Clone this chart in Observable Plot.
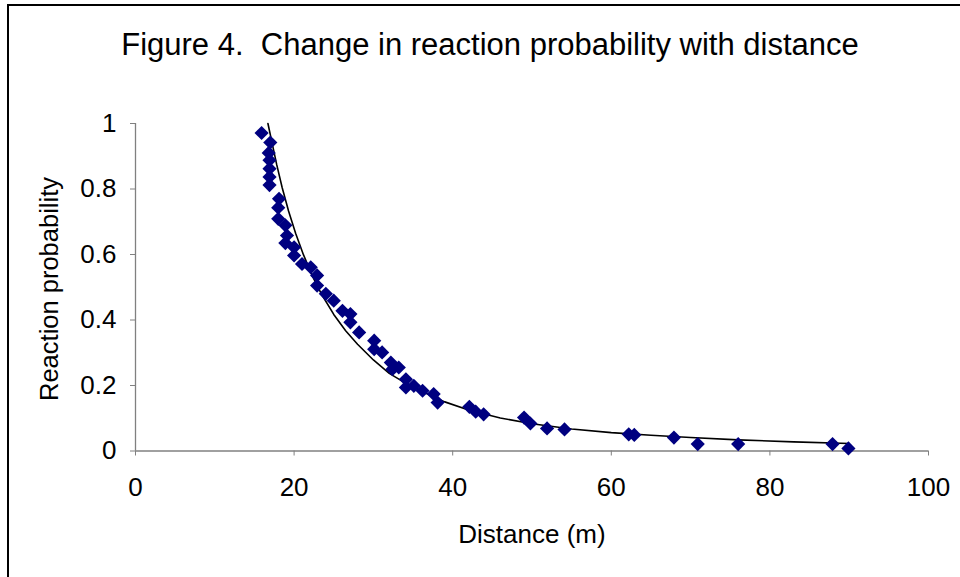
<!DOCTYPE html>
<html>
<head>
<meta charset="utf-8">
<script src="https://cdn.jsdelivr.net/npm/d3@7"></script>
<script src="https://cdn.jsdelivr.net/npm/@observablehq/plot@0.6"></script>
<style>
  html, body { margin: 0; padding: 0; background: #fff; width: 960px; height: 577px; overflow: hidden; }
  #wrap { position: relative; width: 960px; height: 577px; }
  #frame { position: absolute; left: 7px; top: 4px; width: 1000px; height: 700px;
           border-left: 2px solid #000; border-top: 2px solid #000; pointer-events: none; }
  #chart { position: absolute; left: 0; top: 0; }
  #labels { position: absolute; left: 0; top: 0; pointer-events: none; }
  #labels text { white-space: pre; }
</style>
</head>
<body>
<div id="wrap">
  <div id="chart"></div>
  <svg id="labels" width="960" height="577" font-family="'Liberation Sans', Arial, sans-serif">
    <text x="490" y="55" text-anchor="middle" font-size="31" xml:space="preserve">Figure 4.  Change in reaction probability with distance</text>
    <text x="532" y="543" text-anchor="middle" font-size="26">Distance (m)</text>
    <text transform="translate(58,289) rotate(-90)" text-anchor="middle" font-size="25.5">Reaction probability</text>
  </svg>
  <div id="frame"></div>
</div>
<script>
// Observed data points (distance in m, reaction probability)
const distance = [15.9,17.0,16.8,16.9,16.9,16.9,16.9,18.1,18.0,18.0,18.9,19.1,18.9,20.0,20.0,21.0,22.1,22.9,22.9,24.0,25.0,26.1,27.1,27.1,28.2,30.1,30.1,31.1,32.2,33.2,32.4,34.1,34.1,35.1,36.2,37.6,38.1,42.1,42.9,43.9,49.0,49.8,51.9,54.1,62.2,62.9,67.9,70.9,76.0,87.9,89.9];
const probability = [0.971,0.942,0.910,0.888,0.862,0.837,0.812,0.770,0.743,0.709,0.689,0.658,0.635,0.622,0.597,0.571,0.561,0.536,0.505,0.480,0.459,0.428,0.418,0.393,0.362,0.337,0.311,0.301,0.270,0.255,0.250,0.219,0.194,0.199,0.184,0.174,0.148,0.135,0.120,0.112,0.102,0.084,0.069,0.066,0.051,0.049,0.041,0.021,0.021,0.021,0.008];

// Trend line
const trendDistance = [16.7,17.2,17.8,18.5,19.3,20.2,21.2,22.3,23.5,25,26.5,28,30,32,34,36.5,39,42,46,50,55,60,65,70,76,83,90];
const trendProbability = [1.0,0.943,0.875,0.804,0.733,0.664,0.598,0.535,0.477,0.417,0.367,0.326,0.278,0.237,0.208,0.178,0.150,0.125,0.101,0.083,0.067,0.056,0.048,0.041,0.034,0.028,0.023];

// Axis ticks
const xTicks = [0,20,40,60,80,100];
const xTickLabels = ["0","20","40","60","80","100"];
const yTicks = [0,0.2,0.4,0.6,0.8,1];
const yTickLabels = ["0","0.2","0.4","0.6","0.8","1"];

const points = distance.map((d, i) => ({d, p: probability[i]}));
const trend = trendDistance.map((d, i) => ({d, p: trendProbability[i]}));

const chart = Plot.plot({
  width: 960,
  height: 577,
  marginLeft: 135,
  marginRight: 32,
  marginTop: 123,
  marginBottom: 126.5,
  style: {fontFamily: "'Liberation Sans', Arial, sans-serif", fontSize: "26px", background: "transparent", color: "black"},
  x: {domain: [0, 100]},
  y: {domain: [0, 1]},
  marks: [
    Plot.axisX(xTicks, {tickSize: 5, tickPadding: 22, stroke: "#808080", fill: "black", fontSize: 26,
      tickFormat: d => xTickLabels[xTicks.indexOf(d)], label: null}),
    Plot.axisY(yTicks, {tickSize: 5, tickPadding: 14, stroke: "#808080", fill: "black", fontSize: 26,
      tickFormat: d => yTickLabels[yTicks.indexOf(d)], label: null}),
    Plot.ruleY([0], {stroke: "#808080", strokeWidth: 1.3}),
    Plot.ruleX([0], {stroke: "#808080", strokeWidth: 1.3}),
    Plot.line(trend, {x: "d", y: "p", stroke: "black", strokeWidth: 1.6}),
    Plot.dot(points, {x: "d", y: "p", symbol: "diamond2", fill: "#000080", stroke: "none", r: 6.4})
  ]
});
document.getElementById("chart").appendChild(chart);
</script>
</body>
</html>
